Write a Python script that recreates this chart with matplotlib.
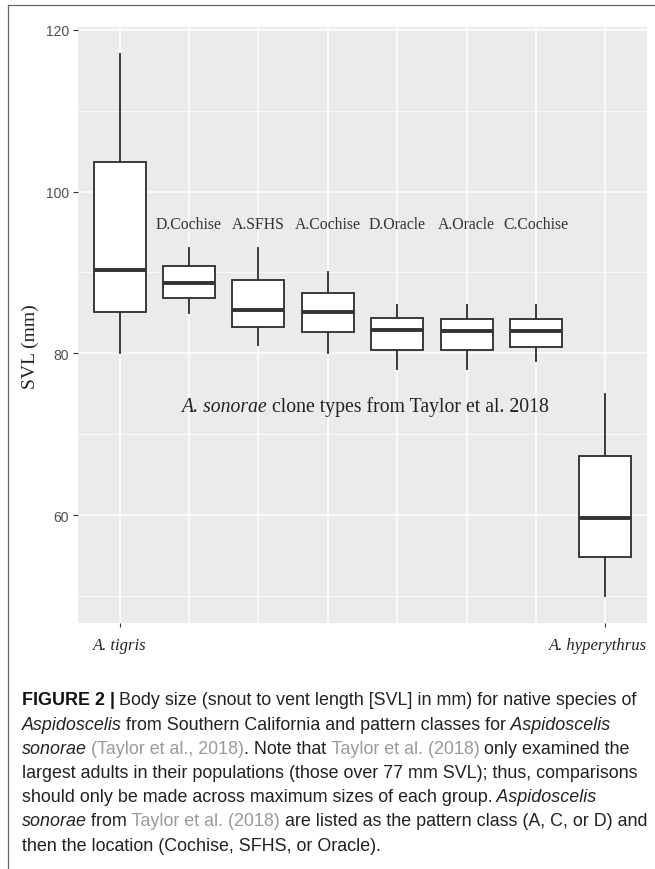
import matplotlib
matplotlib.use("Agg")
import matplotlib.pyplot as plt
from matplotlib import font_manager
from matplotlib.lines import Line2D
from matplotlib.transforms import IdentityTransform, ScaledTranslation

# box statistics (SVL, mm)
groups = ["A. tigris", "D.Cochise", "A.SFHS", "A.Cochise",
          "D.Oracle", "A.Oracle", "C.Cochise", "A. hyperythrus"]
whis_lo = [80, 85.0, 81, 80, 78, 78, 79, 50]
q1 = [85.15, 86.8, 83.2, 82.6, 80.4, 80.4, 80.8, 54.8]
median = [90.3, 88.7, 85.3, 85.1, 82.9, 82.75, 82.7, 59.6]
q3 = [103.6, 90.8, 89.1, 87.5, 84.4, 84.3, 84.3, 67.3]
whis_hi = [117, 93, 93, 90, 86, 86, 86, 75]

clone_types = groups[1:7]
species_ticks = [1, 8]
species_labels = [groups[0], groups[7]]
y_major = [60, 80, 100, 120]
y_minor = [50, 70, 90, 110]

W, H = 655, 870
DARK = "#333333"
SERIF = "Liberation Serif"

try:
    font_manager.findfont("Liberation Sans Narrow", fallback_to_default=False)
    CAP_FONT = "Liberation Sans Narrow"
except ValueError:
    CAP_FONT = "Liberation Sans"

fig = plt.figure(figsize=(W / 100, H / 100), dpi=100)
renderer = fig.canvas.get_renderer()

ax = fig.add_axes([78 / W, 1 - 624 / H, (647 - 78) / W, (624 - 28) / H])
ax.set_facecolor("#EBEBEB")
for s in ax.spines.values():
    s.set_visible(False)

positions = list(range(1, len(groups) + 1))
stats = []
for i in range(len(groups)):
    stats.append(dict(med=median[i], q1=q1[i], q3=q3[i],
                      whislo=whis_lo[i], whishi=whis_hi[i], fliers=[]))
ax.bxp(stats, positions=positions, widths=0.75, patch_artist=True,
       showfliers=False, showcaps=False,
       boxprops=dict(facecolor="white", edgecolor=DARK, linewidth=1.35),
       whiskerprops=dict(color=DARK, linewidth=1.35),
       medianprops=dict(color=DARK, linewidth=2.8, solid_capstyle="butt"))

ax.set_xlim(0.4, 8.6)
ax.set_ylim(46.65, 120.35)
ax.set_axisbelow(True)

ax.set_yticks(y_major)
ax.set_yticks(y_minor, minor=True)
ax.set_xticks(species_ticks)
ax.set_xticklabels(species_labels, family=SERIF, style="italic",
                   fontsize=12, color="#222222")
ax.set_xticks(positions[1:7], minor=True)
ax.grid(which="major", color="white", linewidth=1.1)
ax.grid(which="minor", color="white", linewidth=1.1, axis="x")
ax.grid(which="minor", color="white", linewidth=0.55, axis="y")
ax.tick_params(axis="y", which="major", labelsize=10, labelcolor="#4D4D4D",
               color=DARK, length=3.6, width=0.8, pad=3)
ax.tick_params(axis="x", which="major", color=DARK, length=3,
               width=0.8, pad=7)
ax.tick_params(which="minor", length=0)
for lab in ax.get_yticklabels():
    lab.set_family("Liberation Sans")
# the right species label sits a little left of its tick in the original
last = ax.get_xticklabels()[-1]
last.set_transform(last.get_transform()
                   + ScaledTranslation(-0.07, 0, fig.dpi_scale_trans))

for pos, name in zip(positions[1:7], clone_types):
    ax.text(pos, 96, name, ha="center", va="center", family=SERIF,
            fontsize=11.3, color=DARK)

fig.text(30 / W, 1 - 347 / H, "SVL (mm)", rotation=90, ha="center",
         va="center", family=SERIF, fontsize=14, color="#222222")


def rich_line(x, y, parts, **kw):
    # draw styled pieces one after another, x/y in pixels (y from top)
    for txt, style in parts:
        t = fig.text(x, H - y, txt, transform=IdentityTransform(),
                     ha="left", va="baseline", **kw, **style)
        x = t.get_window_extent(renderer).x1
    return x


ital = dict(style="italic")
norm = dict()

x0, y0 = ax.transData.transform((1.89, 73.5))
rich_line(x0, H - y0 + 5, [("A. sonorae", ital),
                           (" clone types from Taylor et al. 2018", norm)],
          family=SERIF, fontsize=14.2, color="#222222")

# caption
TXT = "#222222"
LINK = "#9A9A9A"
bold = dict(weight="bold", color="#111111")
it = dict(style="italic", color=TXT)
rg = dict(color=TXT)
gr = dict(color=LINK)
caption = [
    [("FIGURE 2 |", bold),
     (" Body size (snout to vent length [SVL] in mm) for native species of", rg)],
    [("Aspidoscelis", it), (" from Southern California and pattern classes for", rg),
     (" Aspidoscelis", it)],
    [("sonorae", it), (" (Taylor et al., 2018)", gr), (". Note that", rg),
     (" Taylor et al. (2018)", gr), (" only examined the", rg)],
    [("largest adults in their populations (those over 77 mm SVL); thus, comparisons", rg)],
    [("should only be made across maximum sizes of each group.", rg),
     (" Aspidoscelis", it)],
    [("sonorae", it), (" from", rg), (" Taylor et al. (2018)", gr),
     (" are listed as the pattern class (A, C, or D) and", rg)],
    [("then the location (Cochise, SFHS, or Oracle).", rg)],
]

probe = fig.text(0, 0, "".join(p[0] for p in caption[0]), family=CAP_FONT,
                 fontsize=10)
cap_size = 10 * 617 / probe.get_window_extent(renderer).width
probe.remove()

for i, parts in enumerate(caption):
    rich_line(21.5, 700 + 24.2 * i + 5.5, parts, family=CAP_FONT,
              fontsize=cap_size)

# thin frame on top and left
fig.add_artist(Line2D([7.5 / W, 1], [1 - 5.5 / H, 1 - 5.5 / H],
                      transform=fig.transFigure, color="#666666", lw=0.9))
fig.add_artist(Line2D([7.5 / W, 7.5 / W], [0, 1 - 5.5 / H],
                      transform=fig.transFigure, color="#666666", lw=0.9))

fig.savefig("out.png", dpi=100, facecolor="white")
